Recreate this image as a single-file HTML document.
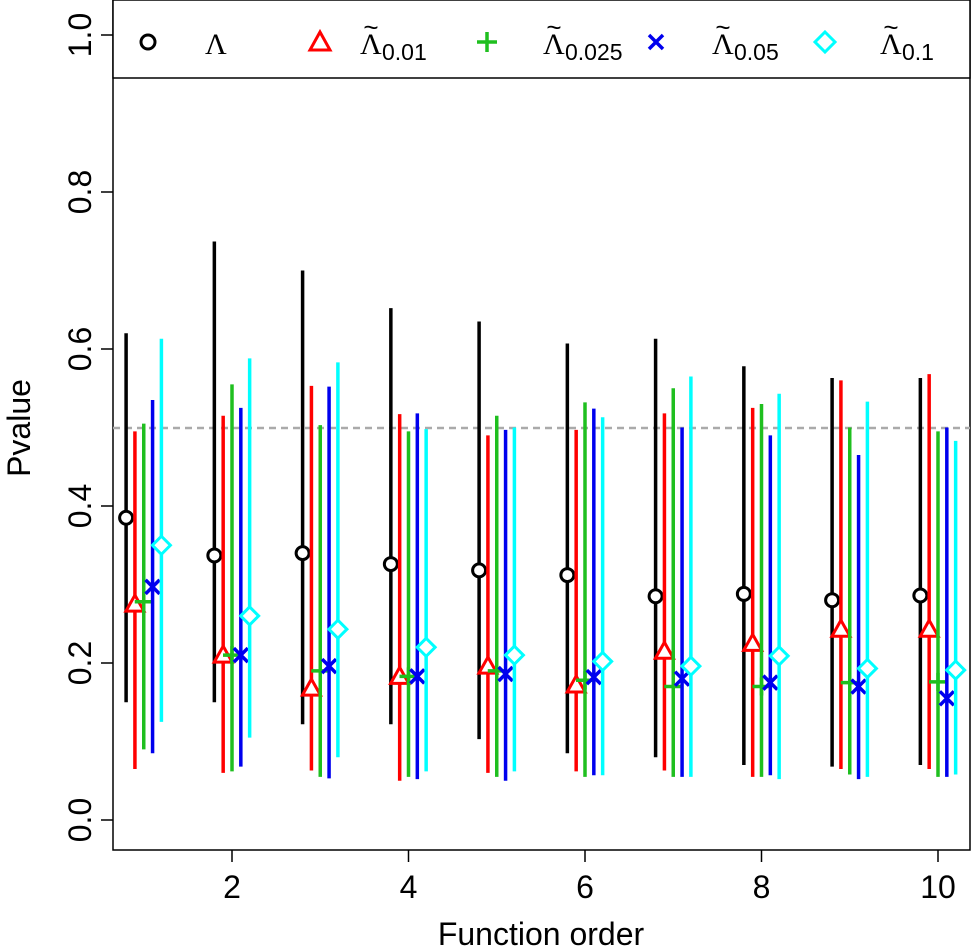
<!DOCTYPE html>
<html><head><meta charset="utf-8"><style>body{margin:0;background:#fff}svg{display:block;font-family:"Liberation Sans",sans-serif}</style></head>
<body>
<svg id="chart" width="976" height="952" xmlns="http://www.w3.org/2000/svg">
<rect x="113" y="0" width="857" height="850" fill="none" stroke="#000" stroke-width="1.5"/>
<line x1="113" x2="970" y1="428" y2="428" stroke="#aaa" stroke-width="2.5" stroke-dasharray="7,5"/>
<g id="marks"></g>
<g id="axes"></g>
<text x="541" y="945" font-size="32" text-anchor="middle">Function order</text>
<text transform="translate(30,428) rotate(-90)" font-size="32" text-anchor="middle">Pvalue</text>
<g>
<rect x="113" y="0" width="857" height="78" fill="#fff" stroke="#000" stroke-width="1.5"/>
<circle cx="148" cy="42" r="7" fill="none" stroke="#000" stroke-width="3"/>
<text x="205" y="54" font-size="30" font-family="Liberation Serif,serif">Λ</text>
<polygon points="320,32 330,50 310,50" fill="none" stroke="red" stroke-width="3"/>
<text x="360" y="54" font-size="30" font-family="Liberation Serif,serif">Λ</text><text x="371" y="36" font-size="26" text-anchor="middle">~</text><text x="382" y="60" font-size="23">0.01</text>
<path d="M477,42h20M487,32v20" stroke="#1fbf1f" stroke-width="3.5"/>
<text x="543" y="54" font-size="30" font-family="Liberation Serif,serif">Λ</text><text x="554" y="36" font-size="26" text-anchor="middle">~</text><text x="565" y="60" font-size="23">0.025</text>
<path d="M649,35l14,14M663,35l-14,14" stroke="#0000ee" stroke-width="3.5"/>
<text x="712" y="54" font-size="30" font-family="Liberation Serif,serif">Λ</text><text x="723" y="36" font-size="26" text-anchor="middle">~</text><text x="734" y="60" font-size="23">0.05</text>
<polygon points="825,32 835,42 825,52 815,42" fill="none" stroke="cyan" stroke-width="3"/>
<text x="880" y="54" font-size="30" font-family="Liberation Serif,serif">Λ</text><text x="891" y="36" font-size="26" text-anchor="middle">~</text><text x="902" y="60" font-size="23">0.1</text>
</g>
</svg>
<script>
const orders=[1,2,3,4,5,6,7,8,9,10];
const seriesNames=["lambda","lambda-0.01","lambda-0.025","lambda-0.05","lambda-0.1"];
const ptLambda=[0.385,0.337,0.34,0.326,0.318,0.312,0.285,0.288,0.28,0.286];
const loLambda=[0.15,0.15,0.122,0.122,0.103,0.085,0.08,0.07,0.068,0.07];
const hiLambda=[0.62,0.737,0.70,0.652,0.635,0.607,0.613,0.578,0.563,0.563];
const pt001=[0.275,0.21,0.168,0.183,0.196,0.172,0.215,0.225,0.243,0.243];
const lo001=[0.065,0.06,0.063,0.05,0.06,0.062,0.063,0.055,0.065,0.065];
const hi001=[0.495,0.515,0.553,0.517,0.49,0.497,0.518,0.525,0.56,0.568];
const pt0025=[0.278,0.21,0.19,0.183,0.19,0.178,0.17,0.17,0.175,0.176];
const lo0025=[0.09,0.062,0.055,0.055,0.055,0.055,0.055,0.055,0.058,0.055];
const hi0025=[0.505,0.555,0.503,0.495,0.515,0.532,0.55,0.53,0.5,0.495];
const pt005=[0.297,0.21,0.196,0.183,0.186,0.182,0.18,0.175,0.17,0.155];
const lo005=[0.085,0.068,0.053,0.052,0.05,0.057,0.055,0.057,0.052,0.055];
const hi005=[0.535,0.525,0.552,0.518,0.497,0.524,0.5,0.49,0.465,0.5];
const pt01=[0.35,0.26,0.243,0.22,0.21,0.202,0.196,0.209,0.193,0.191];
const lo01=[0.125,0.105,0.08,0.062,0.062,0.057,0.055,0.052,0.055,0.058];
const hi01=[0.613,0.588,0.583,0.498,0.5,0.513,0.565,0.543,0.533,0.483];
const xTicks=[2,4,6,8,10];
const yTicks=[0,0.2,0.4,0.6,0.8,1.0];
const yTickLabels=["0.0","0.2","0.4","0.6","0.8","1.0"];
const X=v=>143.75+(v-1)*88.25;
const Y=v=>820-v*785;
const NS="http://www.w3.org/2000/svg";
function mk(t,a,p){const e=document.createElementNS(NS,t);for(const k in a)e.setAttribute(k,a[k]);p.appendChild(e);return e;}
const marks=document.getElementById('marks');
const S=[{pt:ptLambda,lo:loLambda,hi:hiLambda,c:"#000",off:-0.2,m:"circle"},
{pt:pt001,lo:lo001,hi:hi001,c:"red",off:-0.1,m:"tri"},
{pt:pt0025,lo:lo0025,hi:hi0025,c:"#1fbf1f",off:0,m:"plus"},
{pt:pt005,lo:lo005,hi:hi005,c:"#0000ee",off:0.1,m:"x"},
{pt:pt01,lo:lo01,hi:hi01,c:"cyan",off:0.2,m:"diamond"}];
S.forEach((s,si)=>{orders.forEach((o,i)=>{
 const x=X(o+s.off);
 const l=mk('line',{x1:x,x2:x,y1:Y(s.hi[i]),y2:Y(s.lo[i]),stroke:s.c,'stroke-width':3.5},marks);
 
 
 const y=Y(s.pt[i]);let m;
 if(s.m=="circle")m=mk('circle',{cx:x,cy:y,r:6.5,fill:'#fff',stroke:s.c,'stroke-width':3},marks);
 else if(s.m=="tri")m=mk('polygon',{points:`${x},${y-9} ${x+9},${y+7} ${x-9},${y+7}`,fill:'#fff',stroke:s.c,'stroke-width':3},marks);
 else if(s.m=="plus")m=mk('path',{d:`M${x-9},${y}h18M${x},${y-9}v18`,stroke:s.c,'stroke-width':3.5},marks);
 else if(s.m=="x")m=mk('path',{d:`M${x-7},${y-7}l14,14M${x+7},${y-7}l-14,14`,stroke:s.c,'stroke-width':3.5},marks);
 else m=mk('polygon',{points:`${x},${y-9} ${x+9},${y} ${x},${y+9} ${x-9},${y}`,fill:'#fff',stroke:s.c,'stroke-width':3},marks);
 
 
});});
const ax=document.getElementById('axes');
xTicks.forEach(t=>{
 const l=mk('line',{x1:X(t),x2:X(t),y1:850,y2:862,stroke:'#000','stroke-width':1.5},ax);
 
 
 const tx=mk('text',{x:X(t),y:898,'font-size':32,'text-anchor':'middle'},ax);tx.textContent=t;
 
 
});
yTicks.forEach((t,i)=>{
 const l=mk('line',{x1:101,x2:113,y1:Y(t),y2:Y(t),stroke:'#000','stroke-width':1.5},ax);
 
 
 const tx=mk('text',{transform:`translate(91,${Y(t)}) rotate(-90)`,'font-size':32,'text-anchor':'middle'},ax);tx.textContent=yTickLabels[i];
 
 
});
</script>
</body></html>
